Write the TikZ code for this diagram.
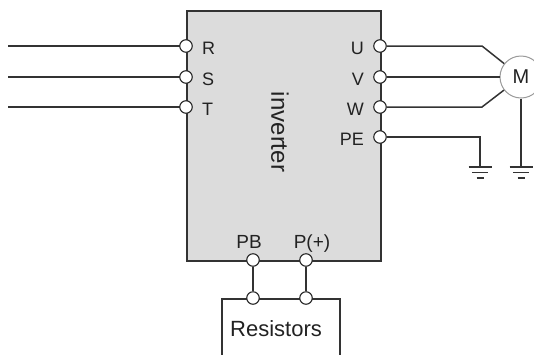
\documentclass[tikz,border=0pt]{standalone}
\usepackage{fontspec}
\setmainfont{Liberation Sans}
\definecolor{wirecol}{HTML}{333333}
\definecolor{boxgray}{HTML}{DCDCDC}
\definecolor{txtcol}{HTML}{222222}
\definecolor{motorgray}{HTML}{9A9A9A}
\begin{document}
\begin{tikzpicture}[x=1pt,y=-1pt,
  wire/.style={draw=wirecol,line width=1.5pt},
  term/.style={circle,draw=black!85,fill=white,line width=1.1pt,minimum size=12.5pt,inner sep=0pt},
  lbl/.style={text=txtcol,font=\fontsize{18}{20}\selectfont,inner sep=0pt},
  invbox/.style={draw=wirecol,fill=boxgray,line width=1.5pt,minimum width=194pt,minimum height=250pt,inner sep=0pt,anchor=north west},
  resbox/.style={draw=wirecol,fill=white,line width=1.5pt,minimum width=118pt,minimum height=80pt,inner sep=0pt,anchor=north west},
  motor/.style={circle,draw=motorgray,fill=white,line width=1pt,minimum size=42pt,inner sep=0pt,text=txtcol,font=\fontsize{20}{22}\selectfont},
  gnd/.style={draw=wirecol,line width=1.5pt},
]
\useasboundingbox (0,0) rectangle (534,354);
\clip (0,0) rectangle (534,354);
% boxes
\node[invbox] (inv) at (186,10) {};
\node[resbox] (res) at (221,298) {};
\node[text=txtcol,font=\fontsize{22}{24}\selectfont,inner sep=0pt] (reslbl) at (276,329) {Resistors};
\node[rotate=-90,text=txtcol,font=\fontsize{24}{26}\selectfont,inner sep=0pt] (invlbl) at (280,132) {inverter};
% input side
\coordinate (inR) at (8,46);
\coordinate (inS) at (8,77);
\coordinate (inT) at (8,107);
\draw[wire] (inR) -- (186,46);
\draw[wire] (inS) -- (186,77);
\draw[wire] (inT) -- (186,107);
\node[term] (R) at (186,46) {};
\node[term] (S) at (186,77) {};
\node[term] (T) at (186,107) {};
\node[lbl,anchor=west] (lR) at (202,48) {R};
\node[lbl,anchor=west] (lS) at (202,79) {S};
\node[lbl,anchor=west] (lT) at (202,109) {T};
% output side
\node[motor] (M) at (521,77) {M};
\coordinate (bU) at (482,46);
\coordinate (bW) at (482,107);
\coordinate (bPE) at (480,137);
\coordinate (g1) at (480,167);
\coordinate (g2) at (521,167);
\node[term] (U) at (380,46) {};
\node[term] (V) at (380,77) {};
\node[term] (W) at (380,107) {};
\node[term] (PE) at (380,137) {};
\draw[wire] (U) -- (bU) -- (M);
\draw[wire] (V) -- (M);
\draw[wire] (W) -- (bW) -- (M);
\draw[wire] (PE) -- (bPE) -- (g1);
\draw[wire] (M.south) -- (g2);
\node[lbl,anchor=east] (lU) at (364,48) {U};
\node[lbl,anchor=east] (lV) at (364,79) {V};
\node[lbl,anchor=east] (lW) at (364,109) {W};
\node[lbl,anchor=east] (lPE) at (364,139) {PE};
% grounds
\foreach \g in {g1,g2}{
  \draw[gnd] ([shift={(-11.5,0)}]\g) -- ([shift={(11.5,0)}]\g);
  \draw[gnd] ([shift={(-8,5.5)}]\g) -- ([shift={(8,5.5)}]\g);
  \draw[gnd] ([shift={(-3.5,11)}]\g) -- ([shift={(3.5,11)}]\g);
}
% braking resistor terminals
\node[term] (PB) at (253,260) {};
\node[term] (P) at (306,260) {};
\node[term] (rPB) at (253,298) {};
\node[term] (rP) at (306,298) {};
\draw[wire] (PB) -- (rPB);
\draw[wire] (P) -- (rP);
\node[lbl,anchor=base,font=\fontsize{19}{21}\selectfont] (lPB) at (249,248) {PB};
\node[lbl,anchor=base,font=\fontsize{19}{21}\selectfont] (lP) at (312,248) {P(+)};
\end{tikzpicture}
\end{document}
